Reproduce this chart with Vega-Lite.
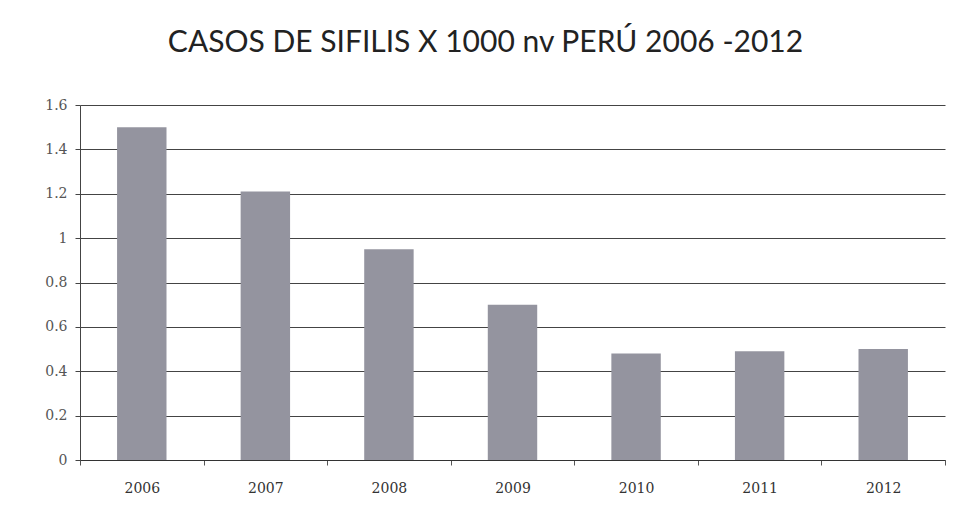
{
  "$schema": "https://vega.github.io/schema/vega-lite/v6.json",
  "autosize": "none",
  "width": 865,
  "height": 355,
  "padding": {"left": 80, "top": 105, "right": 30, "bottom": 55},
  "background": "white",
  "title": {
    "text": "CASOS DE SIFILIS X 1000 nv PERÚ 2006 -2012",
    "font": "Lato",
    "fontSize": 30,
    "fontWeight": "normal",
    "color": "#222222",
    "anchor": "middle",
    "frame": "group",
    "dx": -27,
    "offset": 40
  },
  "data": {
    "values": [
      {"year": "2006", "value": 1.5},
      {"year": "2007", "value": 1.21},
      {"year": "2008", "value": 0.95},
      {"year": "2009", "value": 0.7},
      {"year": "2010", "value": 0.48},
      {"year": "2011", "value": 0.49},
      {"year": "2012", "value": 0.5}
    ]
  },
  "mark": {"type": "bar", "color": "#94949f", "width": {"band": 0.4}},
  "encoding": {
    "x": {
      "field": "year",
      "type": "ordinal",
      "scale": {"paddingInner": 0, "paddingOuter": 0},
      "axis": {
        "title": null,
        "labelAngle": 0,
        "labelFont": "DejaVu Serif",
        "labelFontSize": 14,
        "labelColor": "#333333",
        "labelPadding": 16,
        "tickBand": "extent",
        "tickSize": 5,
        "tickColor": "#555555",
        "domainColor": "#333333"
      }
    },
    "y": {
      "field": "value",
      "type": "quantitative",
      "scale": {"domain": [0, 1.6]},
      "axis": {
        "title": null,
        "values": [0, 0.2, 0.4, 0.6, 0.8, 1, 1.2, 1.4, 1.6],
        "format": "~g",
        "labelFont": "DejaVu Serif",
        "labelFontSize": 14,
        "labelColor": "#555555",
        "labelPadding": 8,
        "tickSize": 5,
        "tickColor": "#444444",
        "domainColor": "#444444",
        "grid": true,
        "gridColor": "#444444",
        "gridWidth": 1
      }
    }
  },
  "config": {"view": {"stroke": null}}
}
